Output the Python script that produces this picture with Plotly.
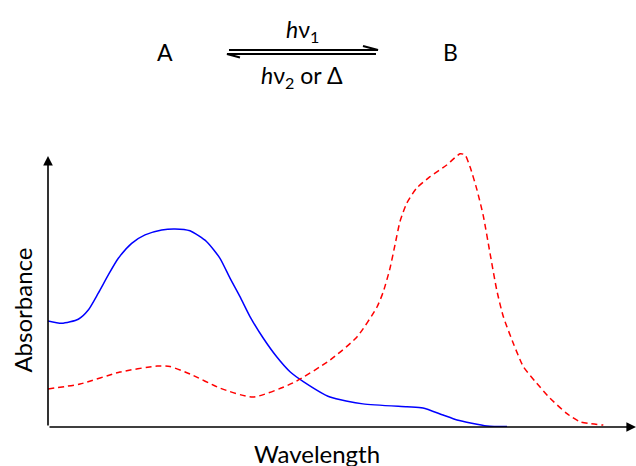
import plotly.graph_objects as go

# Schematic absorption spectra (arbitrary units)
wavelength_A = [0, 2.33, 5.15, 6.85, 8.55, 10.26, 11.96, 14.23, 16.50, 19.34, 21.60,
                24.15, 26.99, 29.25, 30.95, 32.65, 34.35, 36.62, 38.89, 41.16, 43.42,
                47.96, 53.57, 61.05, 63.78, 67.18, 69.56, 74.66, 78.06]
absorbance_A = [0.390, 0.381, 0.396, 0.430, 0.492, 0.559, 0.620, 0.675, 0.706, 0.724, 0.728,
                0.721, 0.681, 0.620, 0.547, 0.479, 0.406, 0.326, 0.258, 0.203, 0.167,
                0.110, 0.085, 0.074, 0.070, 0.044, 0.026, 0.004, 0.002]

wavelength_B = [0, 5.44, 12.24, 18.54, 20.75, 24.15, 29.25, 34.86, 41.67, 47.96, 52.55,
                55.95, 57.02, 58.16, 59.01, 59.86, 61.00, 62.70, 64.97, 67.81, 70.07,
                70.92, 71.77, 72.91, 74.03, 75.17, 76.31, 77.43, 79.13, 80.83, 83.11,
                85.37, 88.21, 90.48, 94.44]
absorbance_B = [0.140, 0.158, 0.202, 0.224, 0.222, 0.195, 0.143, 0.110, 0.162, 0.246, 0.331,
                0.441, 0.497, 0.583, 0.669, 0.755, 0.822, 0.878, 0.920, 0.963, 1.004,
                1.000, 0.956, 0.875, 0.776, 0.639, 0.504, 0.406, 0.308, 0.222, 0.161,
                0.106, 0.050, 0.019, 0.007]

FONT = "Lato"

fig = go.Figure()
fig.add_trace(go.Scatter(x=wavelength_A, y=absorbance_A, mode="lines",
                         line=dict(color="#0000ff", width=1.5, shape="spline", smoothing=0.6),
                         cliponaxis=False, hoverinfo="skip"))
fig.add_trace(go.Scatter(x=wavelength_B, y=absorbance_B, mode="lines",
                         line=dict(color="#ff0000", width=1.5, dash="6px,4px", shape="spline", smoothing=0.6),
                         cliponaxis=False, hoverinfo="skip"))

annotations = [
    # axes arrows
    dict(x=0, y=0.996, ax=0, ay=0, xref="x", yref="y", axref="x", ayref="y",
         showarrow=True, arrowhead=2, arrowsize=1.2, arrowwidth=1.6, arrowcolor="black", text=""),
    dict(x=100, y=0, ax=0, ay=0, xref="x", yref="y", axref="x", ayref="y",
         showarrow=True, arrowhead=2, arrowsize=1.2, arrowwidth=1.6, arrowcolor="black", text=""),
    # axis titles
    dict(x=-0.0434, y=0.422, xref="paper", yref="paper", text="Absorbance", textangle=-90,
         showarrow=False, font=dict(family=FONT, size=24, color="black"),
         xanchor="center", yanchor="middle"),
    dict(x=0.457, y=-0.097, xref="paper", yref="paper", text="Wavelength",
         showarrow=False, font=dict(family=FONT, size=24, color="black"),
         xanchor="center", yanchor="middle"),
    # reaction scheme
    dict(x=0.199, y=1.354, xref="paper", yref="paper", text="A", showarrow=False,
         font=dict(family=FONT, size=23, color="black"), xanchor="center", yanchor="middle"),
    dict(x=0.684, y=1.354, xref="paper", yref="paper", text="B", showarrow=False,
         font=dict(family=FONT, size=23, color="black"), xanchor="center", yanchor="middle"),
    dict(x=0.432, y=1.433, xref="paper", yref="paper", text="<i>h</i>ν<sub>1</sub>", showarrow=False,
         font=dict(family=FONT, size=23, color="black"), xanchor="center", yanchor="middle"),
    dict(x=0.432, y=1.264, xref="paper", yref="paper", text="<i>h</i>ν<sub>2</sub> or Δ", showarrow=False,
         font=dict(family=FONT, size=23, color="black"), xanchor="center", yanchor="middle"),
]

shapes = [
    dict(type="path", xref="paper", yref="paper",
         path="M 0.3078 1.361 L 0.5612 1.361 L 0.5357 1.3755",
         line=dict(color="black", width=2)),
    dict(type="path", xref="paper", yref="paper",
         path="M 0.5578 1.3466 L 0.3044 1.3466 L 0.3265 1.3339",
         line=dict(color="black", width=2)),
]

fig.update_layout(
    width=636, height=466,
    margin=dict(l=48, r=0, t=150, b=39),
    paper_bgcolor="white", plot_bgcolor="white",
    showlegend=False,
    annotations=annotations, shapes=shapes,
    xaxis=dict(range=[0, 100], showgrid=False, zeroline=False, showline=False,
               showticklabels=False, ticks=""),
    yaxis=dict(range=[0, 1.018], showgrid=False, zeroline=False, showline=False,
               showticklabels=False, ticks=""),
)

fig.write_html("out.html", config={"displayModeBar": False, "staticPlot": True},
               post_script="document.body.style.margin='0';")
